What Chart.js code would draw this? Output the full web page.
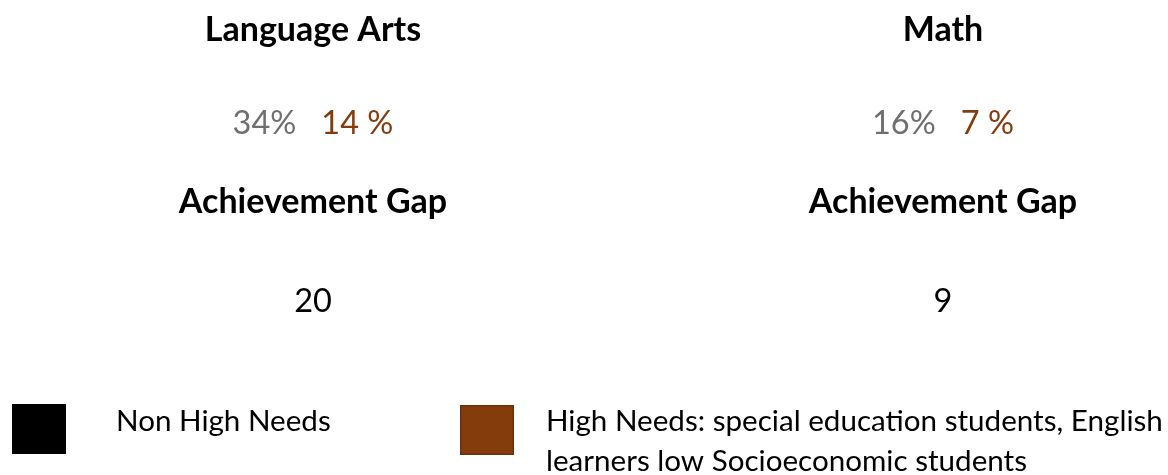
<!DOCTYPE html>
<html>
<head>
<meta charset="utf-8">
<script src="https://cdn.jsdelivr.net/npm/chart.js@4.4.1/dist/chart.umd.min.js"></script>
<style>
html,body{margin:0;padding:0;background:#fff;}
#wrap{width:1168px;height:475px;position:relative;}
</style>
</head>
<body>
<div id="wrap"><canvas id="c" width="1168" height="475"></canvas></div>
<script>
const categories = ['Language Arts', 'Math'];
const nonHighNeeds = [34, 16];
const highNeeds = [14, 7];
const achievementGap = [20, 9];
const seriesNames = ['Non High Needs', 'High Needs: special education students, English learners low Socioeconomic students'];
const legendLines = [['Non High Needs'], ['High Needs: special education students, English', 'learners low Socioeconomic students']];
const gapLabel = 'Achievement Gap';

const GRAY = '#6f6f6f';
const BROWN = '#843C0C';
const FONT = 'Lato, "Open Sans", sans-serif';

const textPlugin = {
  id: 'textPanels',
  afterDraw(chart) {
    const ctx = chart.ctx;
    const xs = chart.scales.x;
    ctx.save();
    ctx.textBaseline = 'middle';
    categories.forEach((cat, i) => {
      const cx = xs.getPixelForValue(i);
      ctx.textAlign = 'center';
      ctx.fillStyle = '#000';
      ctx.font = 'bold 34px ' + FONT;
      ctx.fillText(cat, cx, 30);
      // percentages
      ctx.font = '32.5px ' + FONT;
      const a = nonHighNeeds[i] + '%';
      const b = highNeeds[i] + ' %';
      const gap = 25;
      const wa = ctx.measureText(a).width, wb = ctx.measureText(b).width;
      const start = cx - (wa + gap + wb) / 2;
      ctx.textAlign = 'left';
      ctx.fillStyle = GRAY;
      ctx.fillText(a, start, 124);
      ctx.fillStyle = BROWN;
      ctx.fillText(b, start + wa + gap, 124);
      ctx.textAlign = 'center';
      ctx.fillStyle = '#000';
      ctx.font = 'bold 34px ' + FONT;
      ctx.fillText(gapLabel, cx, 202);
      ctx.font = '32.5px ' + FONT;
      ctx.fillText(String(achievementGap[i]), cx, 302);
    });
    // legend
    const boxes = [{x: 12, y: 404, c: '#000', b: '#000', tx: 116}, {x: 460, y: 405, c: BROWN, b: '#6b300a', tx: 546}];
    ctx.textAlign = 'left';
    boxes.forEach((bx, i) => {
      ctx.fillStyle = bx.c;
      ctx.fillRect(bx.x, bx.y, 54, 50);
      ctx.strokeStyle = bx.b;
      ctx.lineWidth = 1.5;
      ctx.strokeRect(bx.x + 0.75, bx.y + 0.75, 52.5, 48.5);
      ctx.fillStyle = '#000';
      ctx.font = '29.6px ' + FONT;
      legendLines[i].forEach((ln, k) => ctx.fillText(ln, bx.tx, 421 + k * 40));
    });
    ctx.restore();
  }
};

new Chart(document.getElementById('c'), {
  type: 'bar',
  data: {
    labels: categories,
    datasets: [
      {label: seriesNames[0], data: nonHighNeeds, backgroundColor: 'rgba(0,0,0,0)'},
      {label: seriesNames[1], data: highNeeds, backgroundColor: 'rgba(0,0,0,0)'}
    ]
  },
  options: {
    responsive: false,
    animation: false,
    layout: {padding: {left: 313, right: 225, top: 0, bottom: 0}},
    plugins: {legend: {display: false}, tooltip: {enabled: false}},
    scales: {
      x: {display: false, offset: false},
      y: {display: false, min: 0, max: 100}
    }
  },
  plugins: [textPlugin]
});
</script>
</body>
</html>
